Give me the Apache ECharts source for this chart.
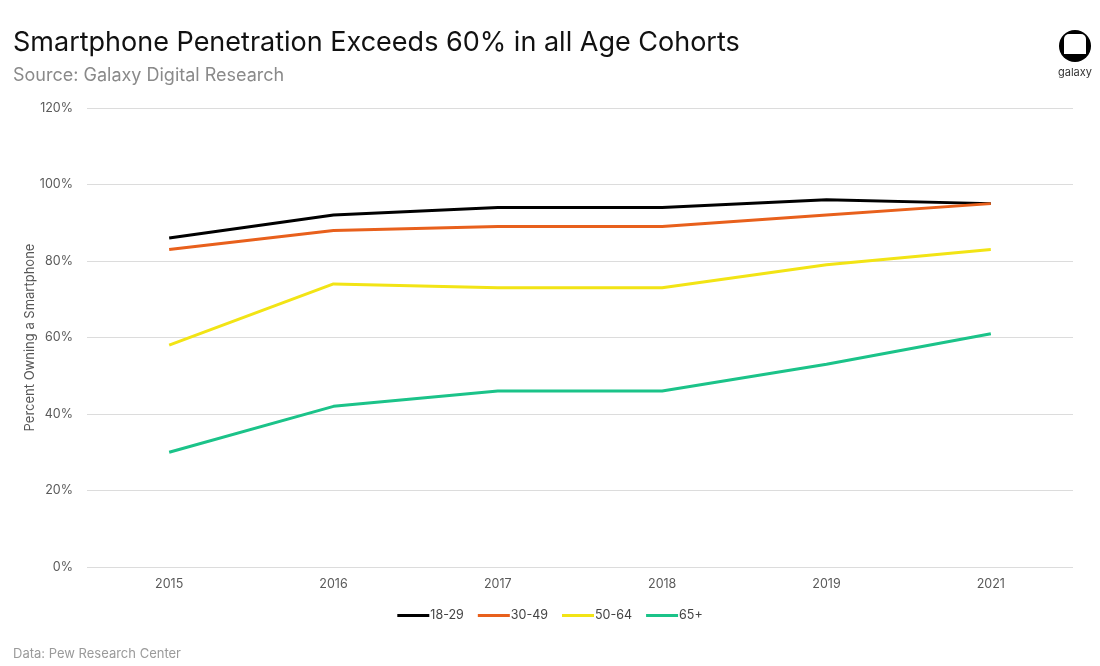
<!DOCTYPE html>
<html>
<head>
<meta charset="utf-8">
<script src="https://cdn.jsdelivr.net/npm/echarts@6/dist/echarts.min.js"></script>
<style>html,body{margin:0;padding:0;background:#fff}#c{width:1100px;height:666px}</style>
</head>
<body>
<div id="c"></div>
<script>
const years = ['2015','2016','2017','2018','2019','2021'];
const s1829 = [86, 92, 94, 94, 96, 95];
const s3049 = [83, 88, 89, 89, 92, 95];
const s5064 = [58, 74, 73, 73, 79, 83];
const s65 = [30, 42, 46, 46, 53, 61];
const seriesNames = ['18-29','30-49','50-64','65+'];
const colors = ['#000000','#E8601C','#F2E415','#1BC389'];
const dataSets = [s1829, s3049, s5064, s65];

const font = 'Inter, "Open Sans", sans-serif';
const chart = echarts.init(document.getElementById('c'));
chart.setOption({
  animation: false,
  textStyle: {fontFamily: font},
  title: [
    {text: 'Smartphone Penetration Exceeds 60% in all Age Cohorts', left: 8, top: 24,
     textStyle: {fontSize: 27, fontWeight: 'normal', color: '#111', fontFamily: font}},
    {text: 'Source: Galaxy Digital Research', left: 8, top: 62,
     textStyle: {fontSize: 18, fontWeight: 'normal', color: '#8a8a8a', fontFamily: font}},
    {text: 'Data: Pew Research Center', left: 8, top: 643,
     textStyle: {fontSize: 13, fontWeight: 'normal', color: '#9a9a9a', fontFamily: font}}
  ],
  grid: {left: 87, right: 27, top: 108, bottom: 99, containLabel: false},
  legend: {
    data: seriesNames, bottom: 39, left: 'center', icon: 'rect', itemWidth: 32, itemHeight: 3,
    itemGap: 14, textStyle: {fontSize: 12.5, color: '#444', padding: [0,0,0,-4]}
  },
  xAxis: {
    type: 'category', data: years, boundaryGap: true,
    axisLine: {show: false}, axisTick: {show: false},
    axisLabel: {fontSize: 12.5, color: '#5a5a5a', margin: 11}
  },
  yAxis: {
    type: 'value', min: 0, max: 120, interval: 20,
    name: 'Percent Owning a Smartphone', nameLocation: 'middle', nameGap: 50,
    nameMoveOverlap: false,
    nameTextStyle: {fontSize: 13, color: '#555'},
    axisLabel: {formatter: '{value}%', fontSize: 12.5, color: '#5a5a5a', margin: 14},
    splitLine: {lineStyle: {color: '#dcdcdc', width: 1}},
    axisLine: {show: false}, axisTick: {show: false}
  },
  series: dataSets.map((d, i) => ({
    name: seriesNames[i], type: 'line', data: d, symbol: 'none',
    lineStyle: {width: 3, color: colors[i]}, itemStyle: {color: colors[i]}
  })),
  graphic: [
    {type: 'circle', shape: {cx: 1075, cy: 46, r: 16}, style: {fill: '#000'}},
    {type: 'rect', shape: {x: 1064, y: 34, width: 22, height: 20, r: [5,5,0,0]}, style: {fill: '#fff'}},
    {type: 'text', style: {text: 'galaxy', x: 1075, y: 67, fontSize: 11, fill: '#333', textAlign: 'center', fontFamily: font}}
  ]
});
</script>
</body>
</html>
